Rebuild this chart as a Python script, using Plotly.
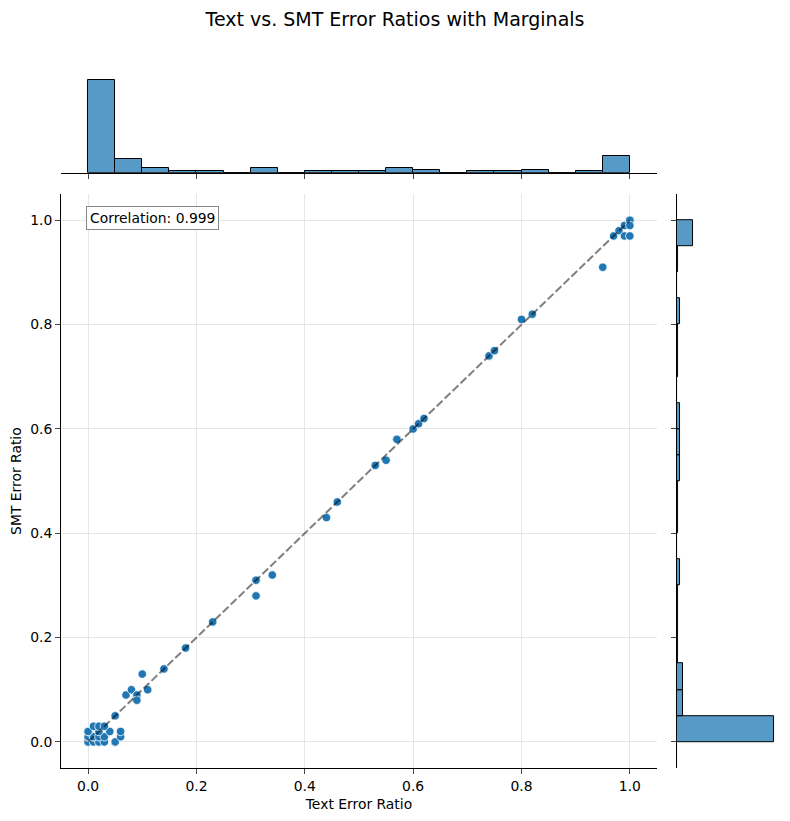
import numpy as np
import plotly.graph_objects as go

text_ratio = [0.00, 0.01, 0.02, 0.03, 0.00, 0.01, 0.02, 0.03, 0.00, 0.02, 0.04, 0.01, 0.02, 0.03,
              0.05, 0.05, 0.06, 0.06, 0.07, 0.08, 0.09, 0.09,
              0.10, 0.11, 0.14, 0.18, 0.23, 0.31, 0.31, 0.34, 0.44, 0.46, 0.53, 0.55, 0.57, 0.60, 0.61, 0.62,
              0.74, 0.75, 0.80, 0.82, 0.95, 0.97, 0.98, 0.99, 0.99, 1.00, 1.00, 1.00]
smt_ratio = [0.00, 0.00, 0.00, 0.00, 0.01, 0.01, 0.01, 0.01, 0.02, 0.02, 0.02, 0.03, 0.03, 0.03,
             0.00, 0.05, 0.01, 0.02, 0.09, 0.10, 0.09, 0.08,
             0.13, 0.10, 0.14, 0.18, 0.23, 0.28, 0.31, 0.32, 0.43, 0.46, 0.53, 0.54, 0.58, 0.60, 0.61, 0.62,
             0.74, 0.75, 0.81, 0.82, 0.91, 0.97, 0.98, 0.99, 0.97, 1.00, 0.99, 0.97]
n_rows = [43, 2, 1, 1, 3, 2, 1, 1, 2, 1, 1, 1, 1, 1,
          2, 1, 1, 1, 1, 1, 1, 1,
          1, 1, 1, 1, 1, 1, 1, 1, 1, 1, 1, 1, 1, 1, 1, 1,
          1, 1, 1, 1, 1, 1, 1, 1, 1, 5, 1, 1]

corr_label = "Correlation: 0.999"
axis_ticks = [0.0, 0.2, 0.4, 0.6, 0.8, 1.0]

x = np.repeat(text_ratio, n_rows)
y = np.repeat(smt_ratio, n_rows)

# marginal histograms, 20 bins over 0..1 like seaborn did
cx, edges = np.histogram(x, bins=20, range=(0, 1))
cy, _ = np.histogram(y, bins=20, range=(0, 1))
centers = (edges[:-1] + edges[1:]) / 2
bw = edges[1] - edges[0]

blue = "#1f77b4"
hist_fill = "rgba(31,119,180,0.75)"
font = "DejaVu Sans"
fs = 13.9

fig = go.Figure()

fig.add_trace(go.Scatter(x=x, y=y, mode="markers",
                         marker=dict(color=blue, size=8.5, line=dict(color="white", width=0.8)),
                         xaxis="x", yaxis="y", showlegend=False))
fig.add_trace(go.Scatter(x=[0, 1], y=[0, 1], mode="lines",
                         line=dict(color="rgba(0,0,0,0.5)", width=2, dash="8px,3px"),
                         xaxis="x", yaxis="y", showlegend=False))

fig.add_trace(go.Bar(x=centers, y=cx, width=bw, marker=dict(color=hist_fill, line=dict(color="black", width=1)),
                     xaxis="x2", yaxis="y2", showlegend=False))
fig.add_trace(go.Bar(y=centers, x=cy, width=bw, orientation="h",
                     marker=dict(color=hist_fill, line=dict(color="black", width=1)),
                     xaxis="x3", yaxis="y3", showlegend=False))

grid = "#e6e6e6"
main_dom_x = [0, 0.830]
main_dom_y = [0, 0.828]

# page body adds an 8px margin, so the figure is 16px smaller than the window
fig.update_layout(
    width=774, height=805,
    margin=dict(l=53, r=3, t=67, b=45),
    paper_bgcolor="white", plot_bgcolor="white",
    font=dict(family=font, size=fs, color="black"),
    title=dict(text="Text vs. SMT Error Ratios with Marginals", x=0.5, xanchor="center",
               y=1 - 11 / 805, yanchor="middle", yref="container", font=dict(size=19, color="black")),
    bargap=0,
    xaxis=dict(domain=main_dom_x, anchor="y", range=[-0.05, 1.05], tickvals=axis_ticks, tickformat=".1f",
               showgrid=True, gridcolor=grid, gridwidth=1, zeroline=False,
               showline=True, linecolor="black", linewidth=1, ticks="outside", ticklen=5, tickwidth=1,
               tickfont=dict(size=fs),
               title=dict(text="Text Error Ratio", standoff=6, font=dict(size=fs)), automargin=False),
    yaxis=dict(domain=main_dom_y, anchor="x", range=[-0.05, 1.05], tickvals=axis_ticks, tickformat=".1f",
               showgrid=True, gridcolor=grid, gridwidth=1, zeroline=False,
               showline=True, linecolor="black", linewidth=1, ticks="outside", ticklen=5, tickwidth=1,
               tickfont=dict(size=fs),
               title=dict(text="SMT Error Ratio", standoff=6, font=dict(size=fs)), automargin=False),
    xaxis2=dict(domain=main_dom_x, anchor="y2", range=[-0.05, 1.05], tickvals=axis_ticks,
                showticklabels=False, showgrid=False, zeroline=False,
                showline=True, linecolor="black", linewidth=1, ticks="outside", ticklen=5, tickwidth=1),
    yaxis2=dict(domain=[0.859, 1], anchor="x2", range=[0, cx.max() * 1.05], visible=False),
    xaxis3=dict(domain=[0.858, 1], anchor="y3", range=[0, cy.max() * 1.05], visible=False),
    yaxis3=dict(domain=main_dom_y, anchor="x3", range=[-0.05, 1.05], tickvals=axis_ticks,
                showticklabels=False, showgrid=False, zeroline=False,
                showline=True, linecolor="black", linewidth=1, ticks="outside", ticklen=5, tickwidth=1),
    annotations=[dict(text=corr_label, xref="x domain", yref="y domain", x=0.042, y=0.979,
                      xanchor="left", yanchor="top", showarrow=False, align="left",
                      bgcolor="white", bordercolor="#888888", borderwidth=1, borderpad=3,
                      font=dict(size=fs, color="black"))],
)

fig.write_html("out.html")
